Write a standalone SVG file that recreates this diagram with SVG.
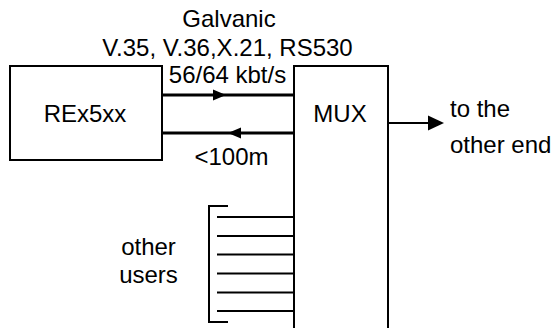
<svg xmlns="http://www.w3.org/2000/svg" width="556" height="328" viewBox="0 0 556 328">
<defs>
<style>
.box{fill:#fff;stroke:#000;stroke-width:2}
.t{font-family:"Liberation Sans",Arial,sans-serif;font-size:24px;fill:#000}
.m{text-anchor:middle}
.thick{stroke:#000;stroke-width:3;fill:none}
.thin{stroke:#000;stroke-width:2;fill:none}
</style>
</defs>
<rect width="556" height="328" fill="#fff"/>
<g id="rex">
<rect class="box" x="10" y="66" width="152" height="94"/>
<text class="t m" x="85" y="122">REx5xx</text>
</g>
<g id="mux">
<path class="box" d="M294,330 V66 H388 V330"/>
<text class="t m" x="340" y="122">MUX</text>
</g>
<g id="labels">
<text class="t m" x="229" y="27">Galvanic</text>
<text class="t m" x="227.5" y="56">V.35, V.36,X.21, RS530</text>
<text class="t m" x="227.5" y="83">56/64 kbt/s</text>
<text class="t m" x="231.5" y="165">&lt;100m</text>
<text class="t" x="450" y="117">to the</text>
<text class="t" x="450" y="153">other end</text>
<text class="t m" x="148.5" y="255">other</text>
<text class="t m" x="148.5" y="283">users</text>
</g>
<g id="connectors">
<line class="thick" x1="162" y1="95" x2="294" y2="95"/>
<polygon points="226,95 213,89.5 213,100.5" fill="#000"/>
<line class="thick" x1="162" y1="133" x2="294" y2="133"/>
<polygon points="228,133 241,127.5 241,138.5" fill="#000"/>
<line class="thin" x1="388" y1="123" x2="430" y2="123"/>
<polygon points="444,123 428,115.5 428,130.5" fill="#000"/>
<path class="thin" d="M228,206 H209 V322 H228"/>
<g class="thin">
<line x1="217" y1="217" x2="294" y2="217"/>
<line x1="217" y1="236" x2="294" y2="236"/>
<line x1="217" y1="254.5" x2="294" y2="254.5"/>
<line x1="217" y1="273.5" x2="294" y2="273.5"/>
<line x1="217" y1="292.5" x2="294" y2="292.5"/>
<line x1="217" y1="311" x2="294" y2="311"/>
</g>
</g>
</svg>
